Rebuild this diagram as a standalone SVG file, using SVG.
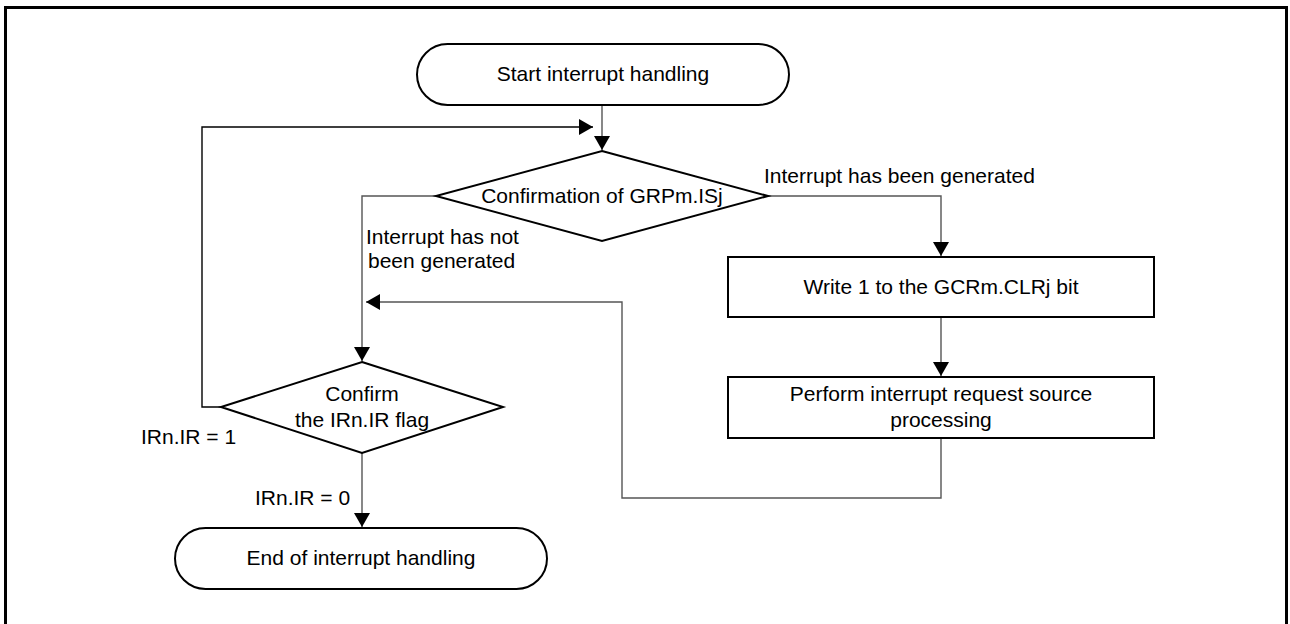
<svg xmlns="http://www.w3.org/2000/svg" width="1290" height="624" viewBox="0 0 1290 624">
<style>
.shape{fill:#fff;stroke:#000;stroke-width:2}
.conn{fill:none;stroke:#555;stroke-width:1.4}
.connk{fill:none;stroke:#000;stroke-width:1.4}
text{font-family:"Liberation Sans",Arial,sans-serif;font-size:21px;fill:#000}
.c{text-anchor:middle}
</style>
<defs>
<marker id="ah" viewBox="0 0 14 16" refX="14" refY="8" markerWidth="14" markerHeight="16" markerUnits="userSpaceOnUse" orient="auto">
<path d="M0,0 L14,8 L0,16 Z" fill="#000"/>
</marker>
</defs>
<rect x="5.5" y="7.5" width="1281" height="630" fill="#fff" stroke="#000" stroke-width="3"/>
<g id="connectors">
<path class="conn" d="M602,105 V150" marker-end="url(#ah)"/>
<path class="connk" d="M221,407 H202 V127 H593" marker-end="url(#ah)"/>
<path class="conn" d="M436,196 H362 V361" marker-end="url(#ah)"/>
<path class="conn" d="M768,196 H941 V256" marker-end="url(#ah)"/>
<path class="conn" d="M941,318 V376" marker-end="url(#ah)"/>
<path class="conn" d="M941,439 V498 H622 V302 H366" marker-end="url(#ah)"/>
<path class="conn" d="M362,453 V527" marker-end="url(#ah)"/>
<text x="764" y="183">Interrupt has been generated</text>
<text x="366" y="244">Interrupt has not</text>
<text x="368" y="268">been generated</text>
<text x="141" y="444">IRn.IR = 1</text>
<text x="255" y="505">IRn.IR = 0</text>
</g>
<g id="start">
<rect class="shape" x="417" y="44" width="372" height="61" rx="30.5" ry="30.5"/>
<text class="c" x="603" y="81">Start interrupt handling</text>
</g>
<g id="decision1">
<polygon class="shape" points="602,151 768,196 602,241 436,196"/>
<text class="c" x="602" y="203">Confirmation of GRPm.ISj</text>
</g>
<g id="write">
<rect class="shape" x="728" y="257" width="426" height="60"/>
<text class="c" x="941" y="294">Write 1 to the GCRm.CLRj bit</text>
</g>
<g id="process">
<rect class="shape" x="728" y="377" width="426" height="61"/>
<text class="c" x="941" y="401">Perform interrupt request source</text>
<text class="c" x="941" y="427">processing</text>
</g>
<g id="decision2">
<polygon class="shape" points="362,362 503,407 362,453 221,407"/>
<text class="c" x="362" y="401">Confirm</text>
<text class="c" x="362" y="427">the IRn.IR flag</text>
</g>
<g id="end">
<rect class="shape" x="175" y="528" width="372" height="61" rx="30.5" ry="30.5"/>
<text class="c" x="361" y="565">End of interrupt handling</text>
</g>
</svg>
